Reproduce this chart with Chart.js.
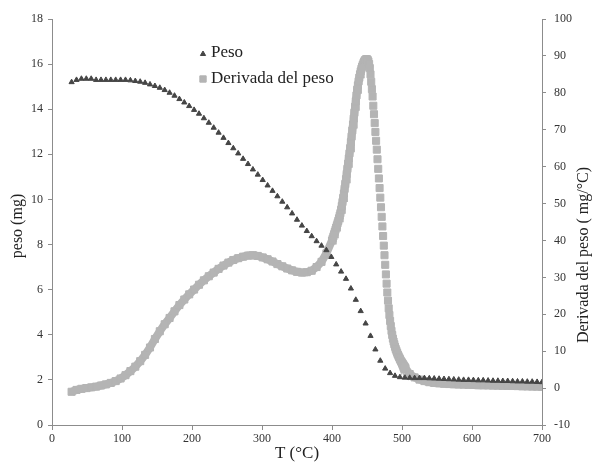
<!DOCTYPE html>
<html>
<head>
<meta charset="utf-8">
<script src="https://cdn.jsdelivr.net/npm/chart.js"></script>
<style>
  html, body { margin: 0; padding: 0; background: #fff; }
</style>
</head>
<body>
<canvas id="myChart" width="595" height="468"></canvas>
<script>
// temperature (°C) for the weight series
var tempPeso = [28, 35, 42, 49, 56, 63, 70, 77, 84, 91,
  98, 105, 112, 119, 126, 133, 140, 147, 154, 161,
  168, 175, 182, 189, 196, 203, 210, 217, 224, 231,
  238, 245, 252, 259, 266, 273, 280, 287, 294, 301,
  308, 315, 322, 329, 336, 343, 350, 357, 364, 371,
  378, 385, 392, 399, 406, 413, 420, 427, 434, 441,
  448, 455, 462, 469, 476, 483, 490, 497, 504, 511,
  518, 525, 532, 539, 546, 553, 560, 567, 574, 581,
  588, 595, 602, 609, 616, 623, 630, 637, 644, 651,
  658, 665, 672, 679, 686, 693, 700];

// peso (mg)
var peso = [15.2, 15.3, 15.35, 15.35, 15.35, 15.3, 15.3, 15.3, 15.3, 15.3,
  15.3, 15.3, 15.28, 15.25, 15.22, 15.17, 15.1, 15.03, 14.95, 14.85,
  14.73, 14.6, 14.45, 14.3, 14.14, 13.97, 13.8, 13.6, 13.4, 13.18,
  12.96, 12.73, 12.5, 12.27, 12.04, 11.8, 11.57, 11.33, 11.1, 10.86,
  10.62, 10.38, 10.14, 9.9, 9.65, 9.38, 9.1, 8.84, 8.6, 8.37,
  8.15, 7.95, 7.75, 7.45, 7.12, 6.8, 6.48, 6.05, 5.55, 5.05,
  4.5, 3.95, 3.35, 2.85, 2.5, 2.3, 2.18, 2.12, 2.1, 2.09,
  2.08, 2.08, 2.08, 2.07, 2.06, 2.05, 2.04, 2.03, 2.02, 2.01,
  2.0, 2.0, 1.99, 1.98, 1.98, 1.97, 1.96, 1.96, 1.95, 1.95,
  1.94, 1.93, 1.93, 1.92, 1.92, 1.91, 1.9];

// temperature (°C) for the derivative series (denser around the peak)
var tempDeriv = [28, 35, 42, 49, 56, 63, 70, 77, 84, 91,
  98, 105, 112, 119, 126, 133, 140, 147, 154, 161,
  168, 175, 182, 189, 196, 203, 210, 217, 224, 231,
  238, 245, 252, 259, 266, 273, 280, 287, 294, 301,
  308, 315, 322, 329, 336, 343, 350, 357, 364, 371,
  378, 385, 392,
  400, 401, 402, 403, 404, 405, 406, 407, 408, 409,
  410, 411, 412, 413, 414, 415, 416, 417, 418, 419,
  420, 421, 422, 423, 424, 425, 426, 427, 428, 429,
  430, 431, 432, 433, 434, 435, 436, 437, 438, 439,
  440, 441, 442, 443, 444, 445, 446, 447, 448, 449,
  450, 451, 452, 453, 454, 455, 456, 457, 458, 459,
  460, 461, 462, 463, 464, 465, 466, 467, 468, 469,
  470, 471, 472, 473, 474, 475, 476, 477, 478, 479,
  480, 481, 482, 483, 484, 485, 486, 487, 488, 489,
  490, 491, 492, 493, 494, 495, 496, 497, 498, 499,
  500, 501, 502, 503, 504, 505,
  511, 518, 525, 532, 539, 546, 553, 560, 567, 574,
  581, 588, 595, 602, 609, 616, 623, 630, 637, 644,
  651, 658, 665, 672, 679, 686, 693, 700];

// derivada del peso (mg/°C)
var derivada = [-1.0, -0.5, -0.2, 0.0, 0.2, 0.4, 0.7, 1.0, 1.4, 1.9,
  2.6, 3.5, 4.6, 5.8, 7.3, 9.0, 11.0, 13.3, 15.4, 17.3,
  19.0, 20.8, 22.5, 24.0, 25.4, 26.7, 28.0, 29.2, 30.3, 31.3,
  32.3, 33.2, 34.0, 34.7, 35.2, 35.6, 35.9, 36.0, 35.8, 35.4,
  34.9, 34.3, 33.6, 33.0, 32.4, 31.9, 31.5, 31.3, 31.4, 31.8,
  32.8, 34.2, 36.5,
  40.0, 40.5, 41.1, 41.7, 42.3, 42.9, 43.5, 44.1, 44.7, 45.3,
  46.0, 46.7, 47.4, 48.3, 49.3, 50.4, 51.5, 52.7, 54.0, 55.3,
  56.6, 58.0, 59.4, 60.8, 62.2, 63.6, 65.0, 66.6, 68.2, 69.8,
  71.4, 73.0, 74.6, 76.2, 77.7, 79.3, 80.8, 82.0, 83.1, 84.1,
  85.0, 85.8, 86.5, 87.1, 87.6, 88.1, 88.5, 88.8, 89.0, 89.1,
  89.1, 88.9, 88.5, 87.8, 86.7, 85.0, 83.0, 81.0, 79.0, 76.5,
  74.2, 71.8, 69.4, 67.0, 64.6, 62.0, 59.4, 56.8, 54.2, 51.6,
  49.0, 46.4, 43.8, 41.2, 38.6, 36.0, 33.4, 30.8, 28.3, 25.9,
  23.7, 21.6, 19.8, 18.2, 16.8, 15.5, 14.4, 13.4, 12.6, 11.9,
  11.2, 10.6, 10.1, 9.6, 9.1, 8.7, 8.3, 7.9, 7.5, 7.2,
  6.9, 6.6, 6.3, 6.0, 5.7, 5.4,
  3.8, 2.9, 2.3, 1.9, 1.6, 1.4, 1.3, 1.2, 1.1, 1.05,
  1.0, 0.95, 0.9, 0.85, 0.8, 0.77, 0.74, 0.7, 0.67, 0.64,
  0.6, 0.57, 0.54, 0.5, 0.47, 0.44, 0.4, 0.37];

var serie1 = 'Peso';
var serie2 = 'Derivada del peso';
var colorPeso = '#454545';
var colorDeriv = '#b4b4b4';
var serif = "'Liberation Serif', 'Times New Roman', serif";

function toPoints(xs, ys) {
  return xs.map(function (x, i) { return { x: x, y: ys[i] }; });
}

// legend and rotated axis titles drawn by hand
var extras = {
  id: 'extras',
  afterDraw: function (chart) {
    var c = chart.ctx;
    c.save();
    c.fillStyle = colorPeso; c.strokeStyle = colorPeso;
    Chart.helpers.drawPoint(c, { pointStyle: 'triangle', radius: 3, borderWidth: 1 }, 203, 54);
    c.fillStyle = colorDeriv; c.strokeStyle = colorDeriv;
    Chart.helpers.drawPoint(c, { pointStyle: 'rect', radius: 4.5, borderWidth: 1 }, 203, 79);
    c.fillStyle = '#222';
    c.font = '17px ' + serif;
    c.textBaseline = 'middle';
    c.textAlign = 'left';
    c.fillText(serie1, 211, 53);
    c.fillText(serie2, 211, 79);

    c.font = '16px ' + serif;
    c.textAlign = 'center';
    c.translate(18, 226);
    c.rotate(-Math.PI / 2);
    c.fillText('peso (mg)', 0, 0);
    c.restore();

    c.save();
    c.fillStyle = '#222';
    c.font = '16px ' + serif;
    c.textAlign = 'center';
    c.textBaseline = 'middle';
    c.translate(584, 255);
    c.rotate(-Math.PI / 2);
    c.fillText('Derivada del peso ( mg/°C)', 0, 0);
    c.restore();
  }
};

var ctx = document.getElementById('myChart').getContext('2d');

var myChart = new Chart(ctx, {
  type: 'scatter',
  data: {
    datasets: [{
      label: serie1,
      data: toPoints(tempPeso, peso),
      yAxisID: 'y',
      showLine: false,
      pointStyle: 'triangle',
      pointRadius: 3,
      pointBorderWidth: 1,
      backgroundColor: colorPeso,
      borderColor: colorPeso
    }, {
      label: serie2,
      data: toPoints(tempDeriv, derivada),
      yAxisID: 'y1',
      showLine: true,
      borderWidth: 8,
      borderColor: colorDeriv,
      backgroundColor: colorDeriv,
      pointStyle: 'rect',
      pointRadius: 5,
      pointBorderWidth: 1,
      pointBorderColor: colorDeriv,
      segment: {
        // the fast drop after the peak shows separate squares, no line
        borderColor: function (s) {
          return (s.p0.parsed.x >= 452 && s.p1.parsed.x <= 492) ? 'rgba(0,0,0,0)' : undefined;
        }
      }
    }]
  },
  options: {
    responsive: false,
    animation: false,
    layout: { padding: { top: 19, left: 0, right: 0, bottom: 0 } },
    plugins: {
      legend: { display: false },
      tooltip: { enabled: false }
    },
    scales: {
      x: {
        type: 'linear',
        min: 0,
        max: 700,
        afterFit: function (s) { s.height = 43; },
        ticks: { stepSize: 100, color: '#333', font: { family: serif, size: 12 }, padding: 2 },
        grid: { drawOnChartArea: false, tickLength: 5, color: '#8c8c8c' },
        border: { color: '#8c8c8c', width: 1 },
        title: { display: true, text: 'T (°C)', color: '#222', font: { family: serif, size: 17 }, padding: { top: 4 } }
      },
      y: {
        position: 'left',
        min: 0,
        max: 18,
        afterFit: function (s) { s.width = 52; },
        ticks: { stepSize: 2, color: '#333', font: { family: serif, size: 12 }, padding: 5 },
        grid: { drawOnChartArea: false, tickLength: 4, color: '#8c8c8c' },
        border: { color: '#8c8c8c', width: 1 }
      },
      y1: {
        position: 'right',
        min: -10,
        max: 100,
        afterFit: function (s) { s.width = 53; },
        ticks: { stepSize: 10, color: '#333', font: { family: serif, size: 12 }, padding: 8 },
        grid: { drawOnChartArea: false, tickLength: 4, color: '#8c8c8c' },
        border: { color: '#8c8c8c', width: 1 }
      }
    }
  },
  plugins: [extras]
});
</script>
</body>
</html>
